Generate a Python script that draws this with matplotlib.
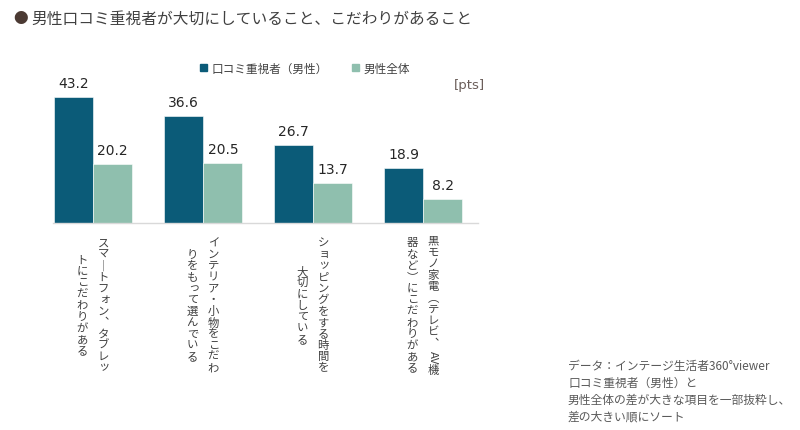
import matplotlib
matplotlib.use("Agg")
import matplotlib.pyplot as plt
from matplotlib.patches import Patch
import numpy as np

plt.rcParams['font.family'] = ['Noto Sans CJK JP', 'DejaVu Sans']

# data
title = "男性口コミ重視者が大切にしていること、こだわりがあること"
series_names = ["口コミ重視者（男性）", "男性全体"]
# each label is written vertically, first column on the right
category_labels = [
    ["スマートフォン、タブレッ", "トにこだわりがある"],
    ["インテリア・小物をこだわ", "りをもって選んでいる"],
    ["ショッピングをする時間を", "大切にしている"],
    ["黒モノ家電（テレビ、AV機", "器など）にこだわりがある"],
]
kuchikomi_male = [43.2, 36.6, 26.7, 18.9]
male_total = [20.2, 20.5, 13.7, 8.2]
note = ("データ：インテージ生活者360°viewer\n"
        "口コミ重視者（男性）と\n"
        "男性全体の差が大きな項目を一部抜粋し、\n"
        "差の大きい順にソート")

dark = "#0B5B78"
light = "#8FBFAE"
text_col = "#404040"

W, H = 800, 431
fig = plt.figure(figsize=(W / 100, H / 100), dpi=100)

# axes placed so the baseline sits at y=224px
ax = fig.add_axes([53 / W, 1 - 224 / H, 425 / W, 146 / H])
x = np.arange(len(kuchikomi_male))
w = 0.355
b1 = ax.bar(x - w / 2, kuchikomi_male, w, color=dark, edgecolor="white", linewidth=0.4)
b2 = ax.bar(x + w / 2, male_total, w, color=light, edgecolor="white", linewidth=0.4)
ax.set_xlim(-0.366, 3.497)
ax.set_ylim(0, 50)

for bars, vals in [(b1, kuchikomi_male), (b2, male_total)]:
    for rect, v in zip(bars, vals):
        ax.annotate(f"{v:.1f}", (rect.get_x() + rect.get_width() / 2, v),
                    xytext=(0, 5), textcoords="offset points",
                    ha="center", va="bottom", fontsize=10,
                    family="DejaVu Sans", color="#262626")

for s in ["top", "left", "right"]:
    ax.spines[s].set_visible(False)
ax.spines["bottom"].set_color("#D9D9D9")
ax.spines["bottom"].set_linewidth(1)
ax.set_xticks([])
ax.set_yticks([])


# vertical (tategaki) category labels, drawn token by token
fs = 8.2
px = 0.72  # points per pixel at 100 dpi
small_kana = set("ッョャュァィゥェォっょゃゅ")
vertical_forms = {"ー": "｜", "（": "︵", "）": "︶", "、": "︑"}


def tokens_of(s):
    out = []
    buf = ""
    for ch in s:
        if ch.isascii() and ch.isalnum():
            buf += ch
            continue
        if buf:
            out.append(buf)
            buf = ""
        out.append(ch)
    if buf:
        out.append(buf)
    return out


def token_height(t):
    if t.isascii():
        return 0.68 * fs * len(t)
    return fs * 1.0


for ci, cols in enumerate(category_labels):
    for li, line in enumerate(cols):
        toks = tokens_of(line)
        h = sum(token_height(t) for t in toks)
        top_pts = (H - 306) * px + h / 2  # from figure bottom, in points
        dx = (10 - 21 * li) * px
        cum = 0
        for t in toks:
            th = token_height(t)
            yc = top_pts - cum - th / 2
            rot = 0
            ox, oy = 0, 0
            if t.isascii():
                rot = -90
            elif t in small_kana:
                ox, oy = 0.1 * fs, 0.1 * fs
            ax.annotate(vertical_forms.get(t, t), (ci, 0), xycoords=("data", "figure points"),
                        xytext=(dx + ox, yc + oy), textcoords="offset points",
                        ha="center", va="center", rotation=rot,
                        fontsize=fs, color=text_col, annotation_clip=False)
            cum += th

# title
fig.text(13 / W, 1 - 19 / H, "●", fontsize=10.5, color="#4B3A33", va="center", ha="left")
fig.text(31 / W, 1 - 19 / H, title, fontsize=11.3, color=text_col, va="center", ha="left")

# legend
handles = [Patch(color=dark), Patch(color=light)]
fig.legend(handles, series_names, loc="center", bbox_to_anchor=(305 / W, 1 - 69 / H),
           ncol=2, frameon=False, fontsize=8.4, handlelength=0.6, handleheight=0.6,
           handletextpad=0.4, columnspacing=2.0, labelcolor=text_col)

fig.text(485 / W, 1 - 85 / H, "[pts]", fontsize=9.5, family="DejaVu Sans",
         color="#6B5E5A", ha="right", va="center")

fig.text(568 / W, 1 - 360 / H, note, fontsize=8.5, color="#595959",
         ha="left", va="top", linespacing=1.4)

fig.savefig("out.png", dpi=100)
